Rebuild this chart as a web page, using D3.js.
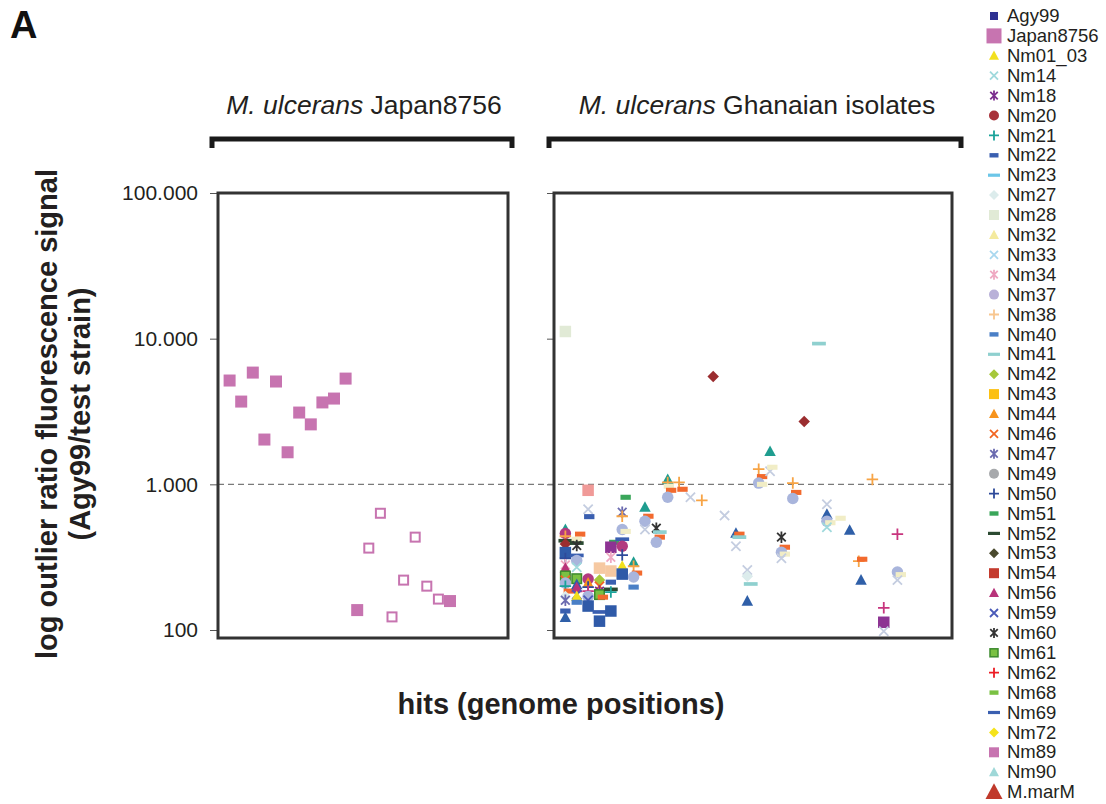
<!DOCTYPE html>
<html>
<head>
<meta charset="utf-8">
<script src="https://cdn.jsdelivr.net/npm/d3@7"></script>
<style>
  body { margin: 0; background: #fff; }
  svg { font-family: "Liberation Sans", Arial, sans-serif; }
</style>
</head>
<body>
<svg id="chart" width="1106" height="804"></svg>
<script>
const svg = d3.select("#chart");

// legend / series definitions
const seriesNames = ["Agy99", "Japan8756", "Nm01_03", "Nm14", "Nm18", "Nm20", "Nm21", "Nm22", "Nm23", "Nm27",
    "Nm28", "Nm32", "Nm33", "Nm34", "Nm37", "Nm38", "Nm40", "Nm41", "Nm42", "Nm43",
    "Nm44", "Nm46", "Nm47", "Nm49", "Nm50", "Nm51", "Nm52", "Nm53", "Nm54", "Nm56",
    "Nm59", "Nm60", "Nm61", "Nm62", "Nm68", "Nm69", "Nm72", "Nm89", "Nm90", "M.marM"];
const seriesShapes = ["square", "bigsquare", "triangle", "x", "asterisk", "circle", "plus", "dash", "longdash", "diamond",
    "square", "triangle", "x", "asterisk", "circle", "plus", "dash", "longdash", "diamond", "square",
    "triangle", "x", "asterisk", "circle", "plus", "dash", "longdash", "diamond", "square", "triangle",
    "x", "asterisk", "bordersquare", "plus", "dash", "longdash", "diamond", "square", "triangle", "bigtriangle"];
const seriesColors = ["#2e3192", "#c774b0", "#f2e01e", "#9fd9dc", "#7b2d8e", "#a8323a", "#1aa39a", "#3a5fb0", "#6cc6e8", "#dcecec",
    "#e1ead6", "#f4ea9e", "#a9d8ef", "#efa9c2", "#b9b1d8", "#f8c68f", "#4a7fc6", "#8fd0cf", "#a6c83b", "#fcc012",
    "#f7941d", "#f26522", "#6b6bb0", "#a7a9ac", "#2e4a9a", "#3aa65a", "#2b4a31", "#4a4a2e", "#c43b2e", "#b8337a",
    "#4a5ab8", "#333333", "#7ac143", "#ed1c24", "#7ac143", "#3a5fb0", "#f5e31a", "#c774b0", "#9fd8d8", "#c0392b"];

// colours/shapes as they come out in the Ghanaian panel
const plotColors = { "Nm23": "#f26a2e", "Nm68": "#f1edc6", "M.marM": "#2f5fa8", "Nm53": "#9b2d30",
    "Nm90": "#1f9d8f", "Nm33": "#c4cde0", "Nm38": "#f7a445", "Nm62": "#c8357e", "Nm20": "#b23a80",
    "Nm37": "#a9b5dc", "Agy99": "#2f5aa8", "Nm54": "#f09a98", "Nm43": "#f6c9a2", "Nm89": "#8d3393" };
const plotShapes = { "Nm23": "dash", "M.marM": "triangle" };

const yTickValues = [100, 10, 1, 0.1];
const yTickLabels = ["100.000", "10.000", "1.000", "100"];
const threshold = 1;

// M. ulcerans Japan8756 hits
const japanHits = [1, 2, 3, 4, 5, 6, 7, 8, 9, 10, 11, 12, 13, 14, 15, 16, 17, 18, 19, 20];
const japanValues = [5.16, 3.70, 5.85, 2.03, 5.08, 1.66, 3.11, 2.58, 3.65, 3.88, 5.32, 0.137,
    0.365, 0.633, 0.123, 0.22, 0.434, 0.20, 0.163, 0.158];
const japanOpenHits = [13, 14, 15, 16, 17, 18, 19];

// Ghanaian isolates: [series, hit, ratio]
const ghanaPoints = [
    ["Nm28", 1, 11.2],
    ["Nm90", 1, 0.49], ["Nm20", 1, 0.46], ["Nm38", 1, 0.44], ["Nm52", 1, 0.41], ["Nm53", 1, 0.39], ["Agy99", 1, 0.34],
    ["Nm50", 1, 0.31], ["Nm34", 1, 0.28], ["Nm56", 1, 0.265], ["Nm61", 1, 0.235], ["Nm46", 1, 0.22], ["Nm37", 1, 0.21],
    ["Nm21", 1, 0.2], ["Nm23", 1.3, 0.185], ["Nm27", 1, 0.17], ["Nm47", 1, 0.16], ["Nm22", 1, 0.135], ["M.marM", 1, 0.122],
    ["Nm23", 2.3, 0.455], ["Nm68", 2, 0.42], ["Nm52", 2, 0.395], ["Nm60", 2, 0.38], ["Nm69", 2, 0.325], ["Nm37", 2, 0.30],
    ["Nm14", 2, 0.27], ["Nm61", 2, 0.225], ["M.marM", 2, 0.205], ["Nm56", 2, 0.195], ["Nm59", 2, 0.175], ["Nm01_03", 2, 0.17],
    ["Nm40", 2, 0.155],
    ["Nm54", 3, 0.91], ["Nm33", 3, 0.675], ["Nm22", 3.1, 0.60], ["Nm20", 3, 0.224], ["Nm44", 3, 0.21], ["Nm50", 3, 0.197],
    ["Nm62", 3, 0.185], ["Nm37", 3, 0.17], ["Nm59", 3, 0.16], ["Agy99", 3, 0.146],
    ["Nm43", 4, 0.266], ["Nm42", 4, 0.22], ["Nm46", 4, 0.2], ["Nm18", 4, 0.185], ["Nm61", 4, 0.175], ["Nm23", 4.3, 0.168],
    ["Nm69", 4, 0.133], ["Agy99", 4, 0.115],
    ["Nm51", 5.3, 0.40], ["Nm89", 5, 0.37], ["Nm34", 5, 0.316], ["Nm43", 5, 0.254], ["Nm22", 5, 0.213], ["Nm52", 5, 0.19],
    ["Nm21", 5, 0.182], ["Agy99", 5, 0.135],
    ["Nm51", 6.3, 0.815], ["Nm47", 6, 0.643], ["Nm38", 6, 0.604], ["Nm37", 6, 0.49], ["Nm68", 6.3, 0.475], ["Nm69", 6, 0.42],
    ["Nm20", 6, 0.376], ["Nm50", 6, 0.327], ["Nm01_03", 6, 0.274], ["Agy99", 6, 0.242],
    ["Nm90", 7, 0.292], ["Nm38", 7, 0.274], ["Nm23", 7.3, 0.246], ["Nm37", 7, 0.231], ["Nm40", 7, 0.197],
    ["Nm90", 8, 0.696], ["Nm23", 8.3, 0.604], ["Nm37", 8, 0.558], ["Nm33", 8, 0.49],
    ["Nm60", 9, 0.50], ["Nm41", 9.3, 0.47], ["Nm23", 9.3, 0.434], ["Nm37", 9, 0.40],
    ["Nm90", 10, 1.08], ["Nm38", 10, 1.03], ["Nm68", 10.1, 0.97], ["Nm23", 10.3, 0.91], ["Nm37", 10, 0.815],
    ["Nm38", 11, 1.03], ["Nm23", 11.3, 0.925],
    ["Nm33", 12, 0.815], ["Nm38", 13, 0.777], ["Nm53", 14, 5.49], ["Nm33", 15, 0.61],
    ["M.marM", 16, 0.462], ["Nm23", 16.3, 0.455], ["Nm41", 16.3, 0.434], ["Nm33", 16, 0.376],
    ["Nm33", 17, 0.258], ["Nm27", 17, 0.234], ["Nm41", 17.3, 0.207], ["M.marM", 17, 0.158],
    ["Nm38", 18, 1.27], ["Nm23", 18.3, 1.13], ["Nm37", 18, 1.02], ["Nm68", 18.3, 1.0],
    ["Nm90", 19, 1.68], ["Nm33", 19, 1.23], ["Nm68", 19.2, 1.31],
    ["Nm60", 20, 0.434], ["Nm23", 20.3, 0.37], ["Nm37", 20, 0.342], ["Nm68", 20.3, 0.332], ["Nm33", 20, 0.311],
    ["Nm38", 21, 1.02], ["Nm23", 21.3, 0.88], ["Nm37", 21, 0.80],
    ["Nm53", 22, 2.70], ["Nm41", 23.3, 9.25],
    ["Nm33", 24, 0.73], ["M.marM", 24, 0.623], ["Nm37", 24, 0.558], ["Nm68", 24.3, 0.545], ["Nm14", 24, 0.507],
    ["Nm68", 25.2, 0.585], ["M.marM", 26, 0.484],
    ["Nm38", 26.8, 0.297], ["Nm23", 27.1, 0.306], ["M.marM", 27, 0.22],
    ["Nm38", 28, 1.08],
    ["Nm62", 29, 0.142], ["Nm89", 29, 0.113], ["Nm33", 29, 0.098],
    ["Nm62", 30.2, 0.455], ["Nm37", 30.2, 0.25], ["Nm68", 30.5, 0.24], ["Nm33", 30.2, 0.22]
];

// scales
const y = d3.scaleLog().domain([0.1, 100]).range([630, 193]);
const xLeft = d3.scaleLinear().domain([0, 25]).range([218, 508]);
const xRight = d3.scaleLinear().domain([0, 35]).range([554, 952]);
const boxTop = 193, boxBottom = 638;

// draw a single marker
function drawMarker(g, shape, color, cx, cy, s) {
    const h = s / 2;
    const line = path => g.append("path").attr("d", path).attr("fill", "none")
        .attr("stroke", color).attr("stroke-width", 1.8);
    switch (shape) {
        case "square":
        case "bigsquare":
            g.append("rect").attr("x", cx - h).attr("y", cy - h).attr("width", s).attr("height", s).attr("fill", color);
            break;
        case "bordersquare":
            g.append("rect").attr("x", cx - h + 1).attr("y", cy - h + 1).attr("width", s - 2).attr("height", s - 2)
                .attr("fill", color).attr("stroke", "#3d8a2e").attr("stroke-width", 1.5);
            break;
        case "opensquare":
            g.append("rect").attr("x", cx - h + 1).attr("y", cy - h + 1).attr("width", s - 2).attr("height", s - 2)
                .attr("fill", "#fff").attr("stroke", color).attr("stroke-width", 2);
            break;
        case "triangle":
        case "bigtriangle":
            g.append("path").attr("d", `M${cx},${cy - h * 1.05}L${cx + h},${cy + h * 0.8}L${cx - h},${cy + h * 0.8}Z`).attr("fill", color);
            break;
        case "circle":
            g.append("circle").attr("cx", cx).attr("cy", cy).attr("r", h).attr("fill", color);
            break;
        case "diamond":
            g.append("path").attr("d", `M${cx},${cy - h}L${cx + h},${cy}L${cx},${cy + h}L${cx - h},${cy}Z`).attr("fill", color);
            break;
        case "x":
            line(`M${cx - h * 0.8},${cy - h * 0.8}L${cx + h * 0.8},${cy + h * 0.8}M${cx + h * 0.8},${cy - h * 0.8}L${cx - h * 0.8},${cy + h * 0.8}`);
            break;
        case "asterisk":
            line(`M${cx - h * 0.75},${cy - h * 0.75}L${cx + h * 0.75},${cy + h * 0.75}M${cx + h * 0.75},${cy - h * 0.75}L${cx - h * 0.75},${cy + h * 0.75}M${cx},${cy - h}L${cx},${cy + h}`);
            break;
        case "plus":
            line(`M${cx - h},${cy}L${cx + h},${cy}M${cx},${cy - h}L${cx},${cy + h}`);
            break;
        case "dash":
            g.append("rect").attr("x", cx - s * 0.45).attr("y", cy - s * 0.22).attr("width", s * 0.9).attr("height", s * 0.44).attr("fill", color);
            break;
        case "longdash":
            g.append("rect").attr("x", cx - s * 0.6).attr("y", cy - s * 0.16).attr("width", s * 1.2).attr("height", s * 0.32).attr("fill", color);
            break;
    }
}

// panel label
svg.append("text").attr("x", 10).attr("y", 38).attr("font-size", 38).attr("font-weight", "bold")
    .attr("fill", "#111").text("A");

// panel titles and brackets
const panels = [
    { x0: 210, x1: 514, name: "Japan8756" },
    { x0: 547, x1: 963, name: "Ghanaian isolates" }
];
panels.forEach(p => {
    const t = svg.append("text").attr("x", (p.x0 + p.x1) / 2 + 2).attr("y", 114)
        .attr("text-anchor", "middle").attr("font-size", 26.5).attr("fill", "#231f20");
    t.append("tspan").attr("font-style", "italic").text("M. ulcerans");
    t.append("tspan").text(" " + p.name);
    svg.append("path")
        .attr("d", `M${p.x0 + 2},148V139H${p.x1 - 2}V148`)
        .attr("fill", "none").attr("stroke", "#1a1a1a").attr("stroke-width", 5);
});

// axes (ticks on both panels, labels on the left one only)
const axisL = d3.axisLeft(y).tickValues(yTickValues).tickFormat((d, i) => yTickLabels[i]).tickSize(8).tickPadding(12);
const gl = svg.append("g").attr("transform", "translate(218,0)").call(axisL);
gl.select(".domain").remove();
gl.selectAll(".tick line").attr("stroke", "#555");
gl.selectAll(".tick text").attr("font-size", 21).attr("fill", "#231f20")
    .attr("font-family", "Liberation Sans, Arial, sans-serif");

const axisR = d3.axisLeft(y).tickValues(yTickValues).tickFormat("").tickSize(7);
const gr = svg.append("g").attr("transform", "translate(554,0)").call(axisR);
gr.select(".domain").remove();
gr.selectAll(".tick line").attr("stroke", "#555");

// threshold line
svg.append("line").attr("x1", 218).attr("x2", 952).attr("y1", y(threshold)).attr("y2", y(threshold))
    .attr("stroke", "#7a7a7a").attr("stroke-width", 1.2).attr("stroke-dasharray", "6,4");

// Japan8756 points
const gJ = svg.append("g");
japanHits.forEach((h, i) => {
    const open = japanOpenHits.includes(h);
    drawMarker(gJ, open ? "opensquare" : "square", seriesColors[1], xLeft(h), y(japanValues[i]), open ? 11 : 12);
});

// Ghanaian points
const gG = svg.append("g");
ghanaPoints.forEach(([name, hit, v]) => {
    const k = seriesNames.indexOf(name);
    const shape = plotShapes[name] || seriesShapes[k];
    const color = plotColors[name] || seriesColors[k];
    drawMarker(gG, shape, color, xRight(hit), y(v), 11.5);
});

// panel frames
[[218, 508], [554, 952]].forEach(([a, b]) => {
    svg.append("rect").attr("x", a).attr("y", boxTop).attr("width", b - a).attr("height", boxBottom - boxTop)
        .attr("fill", "none").attr("stroke", "#333").attr("stroke-width", 3);
});

// axis titles
svg.append("text").attr("transform", "translate(57,414) rotate(-90)").attr("text-anchor", "middle")
    .attr("font-size", 29).attr("font-weight", "bold").attr("fill", "#231f20")
    .text("log outlier ratio fluorescence signal");
svg.append("text").attr("transform", "translate(90,414) rotate(-90)").attr("text-anchor", "middle")
    .attr("font-size", 29).attr("font-weight", "bold").attr("fill", "#231f20")
    .text("(Agy99/test strain)");
svg.append("text").attr("x", 561).attr("y", 714).attr("text-anchor", "middle")
    .attr("font-size", 29).attr("font-weight", "bold").attr("fill", "#231f20")
    .text("hits (genome positions)");

// legend
const gLeg = svg.append("g");
seriesNames.forEach((name, i) => {
    const ly = 16 + i * 19.9;
    const shape = seriesShapes[i];
    const size = shape === "bigsquare" ? 15 : shape === "bigtriangle" ? 17 : name === "Agy99" ? 8 : 10;
    drawMarker(gLeg, shape, seriesColors[i], 994, ly, size);
    gLeg.append("text").attr("x", 1007).attr("y", ly).attr("dy", "0.33em")
        .attr("font-size", 18.5).attr("fill", "#231f20").text(name);
});
</script>
</body>
</html>
